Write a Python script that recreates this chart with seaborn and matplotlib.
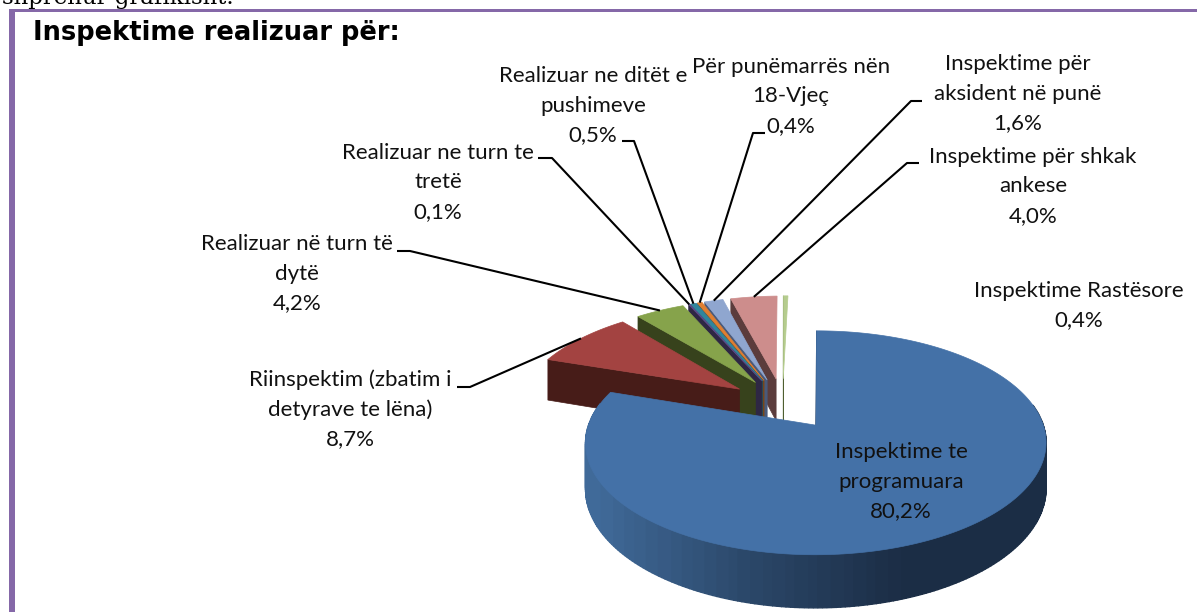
import numpy as np
import matplotlib
matplotlib.use('Agg')
import matplotlib.pyplot as plt
import seaborn as sns
from matplotlib.patches import Polygon, Rectangle

# values in clockwise order, starting at 12 o'clock
categories = ['Inspektime te programuara', 'Riinspektim', 'Turn te dyte', 'Turn te trete',
              'Ditet e pushimeve', 'Nen 18-Vjec', 'Aksident ne pune', 'Ankese', 'Rastesore']
values = [80.2, 8.7, 4.2, 0.1, 0.5, 0.4, 1.6, 4.0, 0.4]
top_colors = ['#4471a7', '#a34341', '#86a34b', '#5f4a8b', '#31859c', '#e07f31', '#8fa6cf', '#cd8d8c', '#b5cc8e']
wall_colors = ['#1b2d45', '#471c18', '#37421c', '#2e2744', '#1f4f5e', '#7a4518', '#4a5a7a', '#5b3c3c', '#4f5f30']
explode = [0.26, 0.245, 0.245, 0.245, 0.245, 0.245, 0.245, 0.245, 0.245]

label_lines = [['Inspektime te', 'programuara', '80,2%'],
               ['Riinspektim (zbatim i', 'detyrave te lëna)', '8,7%'],
               ['Realizuar në turn të', 'dytë', '4,2%'],
               ['Realizuar ne turn te', 'tretë', '0,1%'],
               ['Realizuar ne ditët e', 'pushimeve', '0,5%'],
               ['Për punëmarrës nën', '18-Vjeç', '0,4%'],
               ['Inspektime për', 'aksident në punë', '1,6%'],
               ['Inspektime për shkak', 'ankese', '4,0%'],
               ['Inspektime Rastësore', '0,4%']]
label_x = [901, 350, 297, 438, 593, 791, 1018, 1033, 1079]
label_y = [452, 380, 244, 153, 76, 67, 64, 157, 291]

# leader start and elbow, the far end comes from the wedge itself
leader_start = [None, (457, 387), (397, 251), (538, 158), (622, 141), (765, 133), (922, 101), (919, 163), None]
leader_elbow = [None, (470, 387), (410, 251), (552, 158), (634, 141), (753, 133), (911, 101), (907, 163), None]

# perspective of the pie, in pixels
CX, CY = 820, 424
RX, RY = 227, 108.8
PERSP = 0.157
DEPTH = 44.7
CENTER = np.array([-0.17, -0.20])


def project(u, v):
    w = 1 / (1 - PERSP * np.asarray(v))
    return CX + RX * np.asarray(u) * w, CY + RY * np.asarray(v) * w, DEPTH * w


sns.set_theme(style='white')
plt.rcParams['font.family'] = ['Lato', 'DejaVu Sans']

fig, ax = plt.subplots(figsize=(11.97, 6.12), dpi=100)
fig.subplots_adjust(0, 0, 1, 1)
ax.set_xlim(0, 1197)
ax.set_ylim(612, 0)
ax.axis('off')

# frame of the text box in the document
frame = '#8568a8'
ax.add_patch(Rectangle((9, 9), 1188, 3, color=frame, lw=0))
ax.add_patch(Rectangle((9, 9), 6, 603, color=frame, lw=0))

ax.text(2, 4, 'shprehur grafikisht.', family='DejaVu Serif', fontsize=16.5, ha='left', va='baseline', color='black')
ax.text(33, 33, 'Inspektime realizuar për:', family='DejaVu Sans', fontweight='bold',
        fontsize=18.5, ha='left', va='center', color='black')

shares = np.array(values) / np.sum(values)
stops = np.concatenate([[0], np.cumsum(shares)]) * 2 * np.pi
rim_mid = {}

# back to front: last wedge first, the big one on top
for i in range(len(values) - 1, -1, -1):
    a0, a1 = stops[i], stops[i + 1]
    mid = (a0 + a1) / 2
    vert = CENTER + explode[i] * np.array([np.sin(mid), -np.cos(mid)])
    ang = np.linspace(a0, a1, 300)
    u = vert[0] + np.sin(ang)
    v = vert[1] - np.cos(ang)
    xs, ys, ds = project(u, v)
    vx, vy, vd = project(vert[0], vert[1])
    mx, my, _ = project(vert[0] + np.sin(mid), vert[1] - np.cos(mid))
    rim_mid[i] = (mx, my)

    if i == 0:
        # outer wall with the soft shading, then the thin start edge
        shades = sns.blend_palette(['#406a99', '#2b4769', '#1b2d45', '#1b2d45'], 41)
        wall_x = (xs[:-1] + xs[1:]) / 2
        bins = (np.clip((wall_x - 590) / 460, 0, 1) * 40).astype(int)
        for b in np.unique(bins):
            for k in np.where(bins == b)[0]:
                if np.cos(ang[k]) > 0.2:
                    continue
                quad = [(xs[k], ys[k]), (xs[k + 1], ys[k + 1]),
                        (xs[k + 1], ys[k + 1] + ds[k + 1]), (xs[k], ys[k] + ds[k])]
                ax.add_patch(Polygon(quad, facecolor=shades[b], edgecolor=shades[b], lw=1.0))
    # wall along the first radial edge
    wall = [(xs[0], ys[0]), (vx, vy), (vx, vy + vd), (xs[0], ys[0] + ds[0])]
    ax.add_patch(Polygon(wall, facecolor=wall_colors[i], edgecolor=wall_colors[i], lw=0.5))
    top = list(zip(xs, ys)) + [(vx, vy)]
    ax.add_patch(Polygon(top, facecolor=top_colors[i], edgecolor=top_colors[i], lw=0.5))

for i in range(len(values)):
    if leader_start[i] is None:
        continue
    pts = [leader_start[i], leader_elbow[i], rim_mid[i]]
    ax.plot([p[0] for p in pts], [p[1] for p in pts], color='black', lw=1.5, solid_capstyle='butt')

for lines, x, y in zip(label_lines, label_x, label_y):
    for n, line in enumerate(lines):
        ax.text(x, y + n * 29.5, line, ha='center', va='center', fontsize=16, color='#111111')

fig.savefig('out.png', dpi=100)
